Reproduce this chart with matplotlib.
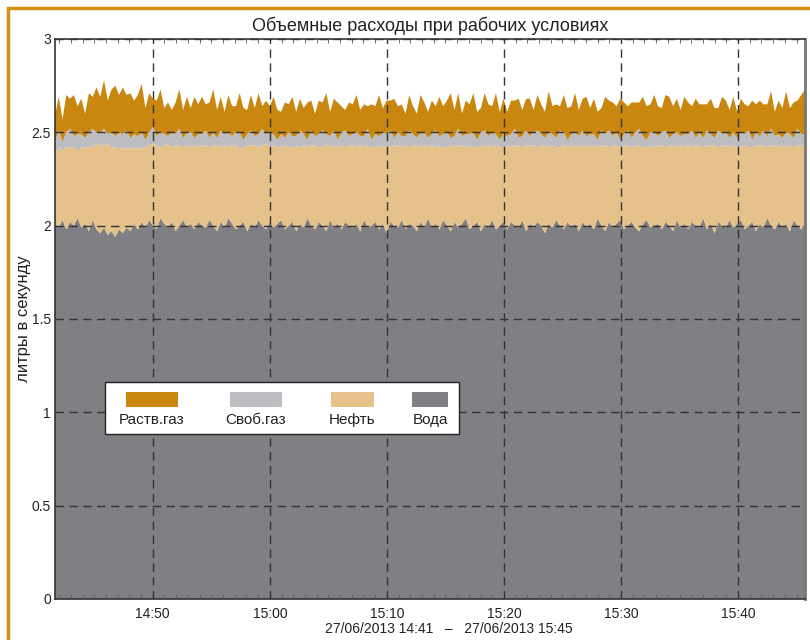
import datetime as dt
import numpy as np
import matplotlib
matplotlib.use("Agg")
import matplotlib.pyplot as plt
import matplotlib.dates as mdates
from matplotlib.patches import Rectangle
from matplotlib.ticker import FuncFormatter, MultipleLocator

plt.rcParams['font.family'] = ['Liberation Sans', 'DejaVu Sans']

t_start = dt.datetime(2013, 6, 27, 14, 41, 39)
t_end = dt.datetime(2013, 6, 27, 15, 45, 43)

labels = ["Раств.газ", "Своб.газ", "Нефть", "Вода"]
colors = ["#C98710", "#BDBDC1", "#E6C28A", "#808084"]

# вода, л/с
water = [
    2.01, 1.99, 2.03, 1.98, 2.02, 2.00, 2.04, 1.99, 2.01, 1.97, 2.03, 1.98, 1.96, 1.99, 1.95, 1.97, 1.94, 1.98, 1.96, 1.99,
    1.97, 2.01, 1.98, 2.02, 1.99, 2.03, 2.00, 1.98, 2.04, 2.01, 1.99, 2.02, 1.97, 2.00, 2.03, 1.99, 2.01, 1.98, 2.02, 2.00,
    1.99, 2.03, 2.00, 1.97, 2.02, 1.99, 2.04, 2.01, 1.98, 2.00, 2.02, 1.97, 2.01, 1.99, 2.03, 2.00, 1.98, 2.02, 1.99, 2.01,
    2.03, 1.98, 2.00, 2.02, 1.97, 2.01, 1.99, 2.04, 2.00, 1.98, 2.02, 2.00, 1.97, 2.03, 1.99, 2.01, 1.98, 2.02, 2.00, 1.99,
    2.01, 1.97, 2.03, 1.99, 2.00, 2.02, 1.98, 2.01, 1.96, 2.02, 2.00, 1.99, 2.03, 1.98, 2.01, 2.00, 1.97, 2.02, 1.99, 2.04,
    1.99, 2.01, 1.98, 2.03, 2.00, 1.97, 2.02, 1.99, 2.01, 2.04, 1.98, 2.00, 2.02, 1.97, 2.01, 1.99, 2.03, 1.98, 2.00, 2.02,
    1.98, 2.02, 2.00, 1.99, 2.03, 1.97, 2.01, 1.99, 2.02, 2.00, 1.96, 2.01, 1.99, 2.03, 2.00, 1.98, 2.02, 1.99, 2.01, 1.97,
    2.02, 1.99, 2.01, 1.98, 2.04, 2.00, 1.97, 2.02, 1.99, 2.01, 2.03, 1.98, 2.00, 2.02, 1.99, 1.97, 2.01, 2.03, 1.99, 2.00,
    2.01, 1.98, 2.02, 2.00, 1.97, 2.03, 1.99, 2.01, 1.98, 2.02, 2.00, 1.99, 2.04, 1.98, 2.01, 1.96, 2.02, 2.00, 1.99, 2.03,
    1.99, 2.01, 2.03, 1.98, 2.00, 2.02, 1.97, 2.01, 1.99, 2.04, 2.00, 1.98, 2.02, 1.99, 2.01, 1.97, 2.03, 2.00, 1.98, 2.02,
]

# нефть, л/с
oil = [
    0.38, 0.43, 0.37, 0.44, 0.40, 0.42, 0.36, 0.43, 0.41, 0.45, 0.39, 0.46, 0.47, 0.44, 0.49, 0.45, 0.48, 0.43, 0.46, 0.42,
    0.45, 0.40, 0.44, 0.39, 0.43, 0.40, 0.44, 0.45, 0.38, 0.42, 0.45, 0.40, 0.46, 0.43, 0.39, 0.44, 0.41, 0.45, 0.40, 0.43,
    0.44, 0.39, 0.43, 0.46, 0.40, 0.44, 0.38, 0.42, 0.45, 0.41, 0.40, 0.46, 0.42, 0.44, 0.39, 0.43, 0.46, 0.40, 0.44, 0.41,
    0.39, 0.45, 0.42, 0.40, 0.46, 0.41, 0.44, 0.38, 0.43, 0.45, 0.40, 0.42, 0.47, 0.39, 0.44, 0.41, 0.45, 0.40, 0.43, 0.44,
    0.41, 0.46, 0.39, 0.44, 0.42, 0.40, 0.45, 0.41, 0.47, 0.40, 0.43, 0.44, 0.39, 0.45, 0.41, 0.43, 0.46, 0.40, 0.44, 0.38,
    0.44, 0.41, 0.45, 0.39, 0.42, 0.46, 0.40, 0.44, 0.42, 0.38, 0.45, 0.42, 0.40, 0.46, 0.41, 0.44, 0.39, 0.45, 0.42, 0.40,
    0.45, 0.40, 0.43, 0.44, 0.39, 0.46, 0.42, 0.44, 0.40, 0.43, 0.47, 0.41, 0.44, 0.39, 0.42, 0.45, 0.40, 0.44, 0.41, 0.46,
    0.40, 0.44, 0.41, 0.45, 0.38, 0.43, 0.46, 0.40, 0.44, 0.42, 0.39, 0.45, 0.43, 0.40, 0.44, 0.46, 0.41, 0.39, 0.44, 0.42,
    0.42, 0.45, 0.40, 0.43, 0.46, 0.39, 0.44, 0.41, 0.45, 0.40, 0.43, 0.44, 0.38, 0.45, 0.42, 0.47, 0.40, 0.43, 0.44, 0.39,
    0.44, 0.41, 0.39, 0.45, 0.42, 0.40, 0.46, 0.42, 0.44, 0.38, 0.43, 0.45, 0.40, 0.44, 0.41, 0.46, 0.39, 0.43, 0.45, 0.40,
]

# свободный газ, л/с
free_gas = [
    0.06, 0.09, 0.05, 0.08, 0.10, 0.06, 0.09, 0.07, 0.05, 0.08, 0.10, 0.06, 0.07, 0.09, 0.05, 0.08, 0.06, 0.09, 0.07, 0.10,
    0.05, 0.08, 0.06, 0.09, 0.04, 0.07, 0.09, 0.05, 0.08, 0.06, 0.04, 0.08, 0.06, 0.09, 0.05, 0.07, 0.08, 0.04, 0.07, 0.06,
    0.08, 0.05, 0.07, 0.04, 0.09, 0.06, 0.08, 0.05, 0.07, 0.09, 0.04, 0.06, 0.08, 0.05, 0.07, 0.09, 0.05, 0.08, 0.06, 0.04,
    0.07, 0.04, 0.08, 0.06, 0.05, 0.09, 0.06, 0.04, 0.08, 0.05, 0.07, 0.09, 0.05, 0.06, 0.08, 0.04, 0.07, 0.09, 0.05, 0.06,
    0.08, 0.05, 0.06, 0.09, 0.04, 0.07, 0.05, 0.08, 0.06, 0.09, 0.04, 0.07, 0.06, 0.05, 0.09, 0.06, 0.04, 0.08, 0.07, 0.05,
    0.06, 0.09, 0.05, 0.07, 0.08, 0.04, 0.06, 0.09, 0.05, 0.07, 0.06, 0.08, 0.04, 0.07, 0.09, 0.05, 0.08, 0.06, 0.04, 0.07,
    0.05, 0.07, 0.09, 0.04, 0.06, 0.08, 0.05, 0.07, 0.09, 0.06, 0.04, 0.08, 0.06, 0.05, 0.09, 0.07, 0.04, 0.06, 0.08, 0.05,
    0.09, 0.05, 0.07, 0.06, 0.04, 0.08, 0.06, 0.09, 0.05, 0.07, 0.04, 0.06, 0.08, 0.05, 0.07, 0.09, 0.06, 0.04, 0.07, 0.08,
    0.05, 0.07, 0.09, 0.04, 0.06, 0.08, 0.05, 0.07, 0.06, 0.09, 0.04, 0.07, 0.05, 0.08, 0.06, 0.04, 0.09, 0.06, 0.07, 0.05,
    0.07, 0.05, 0.08, 0.06, 0.09, 0.04, 0.07, 0.05, 0.08, 0.06, 0.09, 0.05, 0.07, 0.04, 0.08, 0.06, 0.05, 0.09, 0.06, 0.07,
]

# растворённый газ, л/с
diss_gas = [
    0.14, 0.18, 0.12, 0.20, 0.16, 0.22, 0.15, 0.19, 0.13, 0.21, 0.17, 0.24, 0.19, 0.26, 0.18, 0.23, 0.27, 0.20, 0.25, 0.19,
    0.24, 0.18, 0.22, 0.26, 0.17, 0.21, 0.15, 0.19, 0.23, 0.14, 0.18, 0.12, 0.17, 0.21, 0.15, 0.19, 0.13, 0.22, 0.16, 0.20,
    0.14, 0.19, 0.23, 0.15, 0.18, 0.12, 0.20, 0.16, 0.14, 0.21, 0.17, 0.13, 0.19, 0.15, 0.22, 0.12, 0.18, 0.14, 0.20, 0.16,
    0.12, 0.19, 0.15, 0.21, 0.13, 0.17, 0.14, 0.20, 0.16, 0.12, 0.18, 0.15, 0.22, 0.13, 0.17, 0.20, 0.14, 0.11, 0.18, 0.16,
    0.20, 0.14, 0.17, 0.12, 0.19, 0.15, 0.22, 0.13, 0.18, 0.16, 0.21, 0.14, 0.17, 0.12, 0.19, 0.15, 0.13, 0.20, 0.16, 0.14,
    0.18, 0.13, 0.21, 0.15, 0.17, 0.24, 0.14, 0.19, 0.12, 0.18, 0.16, 0.21, 0.15, 0.13, 0.20, 0.17, 0.14, 0.22, 0.15, 0.19,
    0.13, 0.18, 0.15, 0.21, 0.14, 0.17, 0.20, 0.12, 0.19, 0.16, 0.14, 0.22, 0.15, 0.18, 0.13, 0.20, 0.17, 0.15, 0.21, 0.14,
    0.17, 0.21, 0.14, 0.19, 0.15, 0.12, 0.20, 0.16, 0.18, 0.14, 0.22, 0.17, 0.13, 0.19, 0.16, 0.14, 0.21, 0.18, 0.15, 0.20,
    0.16, 0.13, 0.19, 0.22, 0.15, 0.18, 0.14, 0.20, 0.17, 0.13, 0.21, 0.15, 0.18, 0.14, 0.19, 0.16, 0.12, 0.20, 0.17, 0.15,
    0.19, 0.14, 0.18, 0.16, 0.13, 0.21, 0.15, 0.19, 0.14, 0.17, 0.20, 0.13, 0.18, 0.16, 0.22, 0.14, 0.19, 0.15, 0.21, 0.24,
]

n = len(water)
t0 = mdates.date2num(t_start)
t1 = mdates.date2num(t_end)
times = np.linspace(t0, t1, n)

fig = plt.figure(figsize=(8.1, 6.4), dpi=100)
ax = fig.add_axes([55 / 810, 41 / 640, 750 / 810, 560 / 640])

ax.stackplot(times, water, oil, free_gas, diss_gas,
             colors=colors[::-1], linewidth=0, antialiased=True)

ax.set_xlim(t0, t1)
ax.set_ylim(0, 3)

ax.xaxis.set_major_locator(mdates.MinuteLocator(byminute=[0, 10, 20, 30, 40, 50]))
ax.xaxis.set_major_formatter(mdates.DateFormatter('%H:%M'))
ax.xaxis.set_minor_locator(mdates.MinuteLocator())
ax.yaxis.set_major_locator(MultipleLocator(0.5))
ax.yaxis.set_major_formatter(FuncFormatter(lambda v, p: '%g' % v))

ax.tick_params(axis='both', which='major', direction='in', length=0,
               labelsize=10, colors='#222222', pad=6)
ax.tick_params(axis='y', which='major', pad=3)
ax.tick_params(axis='x', which='minor', direction='in', length=3,
               top=True, bottom=True, color='#555555', width=0.6)

ax.grid(True, which='major', linestyle=(0, (6, 4)), color='#333333', linewidth=1)
ax.set_axisbelow(False)

for side in ['left', 'top', 'bottom']:
    ax.spines[side].set_color('#333333')
    ax.spines[side].set_linewidth(1.2)
ax.spines['right'].set_color('#777777')
ax.spines['right'].set_linewidth(2)

ax.set_title('Объемные расходы при рабочих условиях', fontsize=13, pad=6, color='#222222')
ax.set_ylabel('литры в секунду', fontsize=12, color='#222222')
ax.yaxis.set_label_coords(-0.032, 0.5)
fig.text(449 / 810, 1 - 629 / 640, '27/06/2013 14:41   \u2013   27/06/2013 15:45',
         ha='center', va='center', fontsize=10, color='#222222')

# легенда
leg_box = Rectangle((0.0665, 0.2946), 0.472, 0.0929, transform=ax.transAxes,
                    facecolor='white', edgecolor='#222222', linewidth=1, zorder=5)
ax.add_patch(leg_box)
patch_x = [152, 256, 352, 430]
patch_w = [52, 52, 43, 36]
for lab, col, cx, w in zip(labels, colors, patch_x, patch_w):
    x0 = (cx - w / 2 - 55) / 750
    ax.add_patch(Rectangle((x0, (599 - 407) / 560), w / 750, 15 / 560,
                           transform=ax.transAxes, facecolor=col, edgecolor='none', zorder=6))
    ax.text((cx - 55) / 750, (599 - 420) / 560, lab, transform=ax.transAxes,
            ha='center', va='center', fontsize=11, color='#222222', zorder=6)

# рамка вокруг рисунка
fig.add_artist(Rectangle((8 / 810, -0.1), 1.2, 1.1 - 8 / 640, transform=fig.transFigure,
                         fill=False, edgecolor='#D4900E', linewidth=2.5))

fig.savefig('out.png', dpi=100)
